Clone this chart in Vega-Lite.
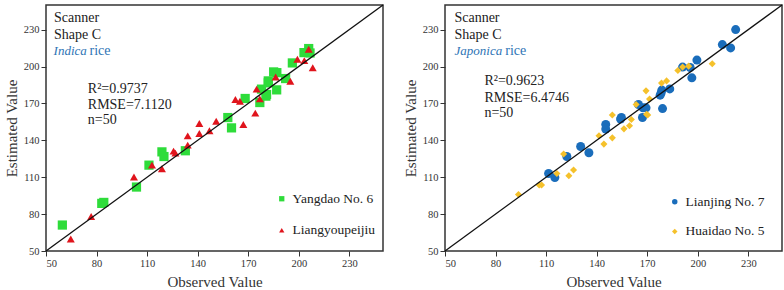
{
  "$schema": "https://vega.github.io/schema/vega-lite/v6.json",
  "padding": {"left": 3, "top": 3, "right": 3, "bottom": 0},
  "background": "white",
  "spacing": 17,
  "config": {
    "font": "Times New Roman, Liberation Serif, serif",
    "view": {"stroke": "#333333", "strokeWidth": 1.5},
    "text": {"font": "Times New Roman, Liberation Serif, serif"},
    "axis": {"grid": false, "domain": false, "tickColor": "#333333", "tickSize": 5, "labelFont": "Times New Roman, Liberation Serif, serif", "labelFontSize": 10.5, "labelColor": "#333333", "titleFont": "Times New Roman, Liberation Serif, serif", "titleFontSize": 15, "titleFontWeight": "normal", "titleColor": "#333333", "labelPadding": 2},
    "legend": {"labelFont": "Times New Roman, Liberation Serif, serif"}
  },
  "datasets": {
    "indica": [
      {"obs": 59.7, "est": 71.1, "variety": "Yangdao No. 6"},
      {"obs": 83.1, "est": 88.7, "variety": "Yangdao No. 6"},
      {"obs": 84.3, "est": 89.5, "variety": "Yangdao No. 6"},
      {"obs": 103.7, "est": 102, "variety": "Yangdao No. 6"},
      {"obs": 111.1, "est": 119.8, "variety": "Yangdao No. 6"},
      {"obs": 118.8, "est": 130.6, "variety": "Yangdao No. 6"},
      {"obs": 120, "est": 126.8, "variety": "Yangdao No. 6"},
      {"obs": 132.7, "est": 131.5, "variety": "Yangdao No. 6"},
      {"obs": 157.9, "est": 158.5, "variety": "Yangdao No. 6"},
      {"obs": 160.1, "est": 150.1, "variety": "Yangdao No. 6"},
      {"obs": 168.2, "est": 174, "variety": "Yangdao No. 6"},
      {"obs": 176.9, "est": 170.7, "variety": "Yangdao No. 6"},
      {"obs": 177.9, "est": 181.6, "variety": "Yangdao No. 6"},
      {"obs": 180.5, "est": 175.9, "variety": "Yangdao No. 6"},
      {"obs": 180.9, "est": 177.2, "variety": "Yangdao No. 6"},
      {"obs": 181.9, "est": 186.7, "variety": "Yangdao No. 6"},
      {"obs": 181.9, "est": 188.3, "variety": "Yangdao No. 6"},
      {"obs": 186.9, "est": 181, "variety": "Yangdao No. 6"},
      {"obs": 185.1, "est": 195.6, "variety": "Yangdao No. 6"},
      {"obs": 187, "est": 195, "variety": "Yangdao No. 6"},
      {"obs": 192.2, "est": 190.2, "variety": "Yangdao No. 6"},
      {"obs": 196.2, "est": 202.9, "variety": "Yangdao No. 6"},
      {"obs": 203.1, "est": 211.3, "variety": "Yangdao No. 6"},
      {"obs": 205.9, "est": 214.6, "variety": "Yangdao No. 6"},
      {"obs": 206.7, "est": 211, "variety": "Yangdao No. 6"},
      {"obs": 64.7, "est": 59.7, "variety": "Liangyoupeijiu"},
      {"obs": 76.8, "est": 78.1, "variety": "Liangyoupeijiu"},
      {"obs": 102.2, "est": 110.1, "variety": "Liangyoupeijiu"},
      {"obs": 112.9, "est": 119.8, "variety": "Liangyoupeijiu"},
      {"obs": 118.8, "est": 116.8, "variety": "Liangyoupeijiu"},
      {"obs": 125.7, "est": 131.2, "variety": "Liangyoupeijiu"},
      {"obs": 126.8, "est": 129.6, "variety": "Liangyoupeijiu"},
      {"obs": 134.1, "est": 136.1, "variety": "Liangyoupeijiu"},
      {"obs": 134.1, "est": 143.6, "variety": "Liangyoupeijiu"},
      {"obs": 141, "est": 153.6, "variety": "Liangyoupeijiu"},
      {"obs": 141, "est": 145.5, "variety": "Liangyoupeijiu"},
      {"obs": 147, "est": 147.7, "variety": "Liangyoupeijiu"},
      {"obs": 151, "est": 155.5, "variety": "Liangyoupeijiu"},
      {"obs": 162.4, "est": 173.1, "variety": "Liangyoupeijiu"},
      {"obs": 165.1, "est": 171.8, "variety": "Liangyoupeijiu"},
      {"obs": 167.1, "est": 152.8, "variety": "Liangyoupeijiu"},
      {"obs": 174.2, "est": 162.1, "variety": "Liangyoupeijiu"},
      {"obs": 175, "est": 181.6, "variety": "Liangyoupeijiu"},
      {"obs": 176.9, "est": 173.7, "variety": "Liangyoupeijiu"},
      {"obs": 186.3, "est": 191.5, "variety": "Liangyoupeijiu"},
      {"obs": 195, "est": 188, "variety": "Liangyoupeijiu"},
      {"obs": 199.2, "est": 205.9, "variety": "Liangyoupeijiu"},
      {"obs": 203.3, "est": 204.8, "variety": "Liangyoupeijiu"},
      {"obs": 205.9, "est": 214, "variety": "Liangyoupeijiu"},
      {"obs": 208.3, "est": 199, "variety": "Liangyoupeijiu"}
    ],
    "japonica": [
      {"obs": 111.5, "est": 113, "variety": "Lianjing No. 7"},
      {"obs": 115.2, "est": 109.8, "variety": "Lianjing No. 7"},
      {"obs": 122.3, "est": 126.8, "variety": "Lianjing No. 7"},
      {"obs": 130.5, "est": 135, "variety": "Lianjing No. 7"},
      {"obs": 135.4, "est": 129.9, "variety": "Lianjing No. 7"},
      {"obs": 145.4, "est": 149.1, "variety": "Lianjing No. 7"},
      {"obs": 145.4, "est": 152.9, "variety": "Lianjing No. 7"},
      {"obs": 154.7, "est": 158.5, "variety": "Lianjing No. 7"},
      {"obs": 154.2, "est": 157.3, "variety": "Lianjing No. 7"},
      {"obs": 164.8, "est": 169.1, "variety": "Lianjing No. 7"},
      {"obs": 167.2, "est": 158.5, "variety": "Lianjing No. 7"},
      {"obs": 167.5, "est": 166.4, "variety": "Lianjing No. 7"},
      {"obs": 169.3, "est": 166.4, "variety": "Lianjing No. 7"},
      {"obs": 177.7, "est": 176.7, "variety": "Lianjing No. 7"},
      {"obs": 178.7, "est": 180.8, "variety": "Lianjing No. 7"},
      {"obs": 178.3, "est": 178.7, "variety": "Lianjing No. 7"},
      {"obs": 179.1, "est": 165.8, "variety": "Lianjing No. 7"},
      {"obs": 183.4, "est": 181.8, "variety": "Lianjing No. 7"},
      {"obs": 191, "est": 199.5, "variety": "Lianjing No. 7"},
      {"obs": 195.5, "est": 199.2, "variety": "Lianjing No. 7"},
      {"obs": 196.5, "est": 190.8, "variety": "Lianjing No. 7"},
      {"obs": 199.5, "est": 205.2, "variety": "Lianjing No. 7"},
      {"obs": 214.6, "est": 217.8, "variety": "Lianjing No. 7"},
      {"obs": 219.5, "est": 215.1, "variety": "Lianjing No. 7"},
      {"obs": 222.5, "est": 230, "variety": "Lianjing No. 7"},
      {"obs": 93.6, "est": 96, "variety": "Huaidao No. 5"},
      {"obs": 105.9, "est": 103.6, "variety": "Huaidao No. 5"},
      {"obs": 107.3, "est": 103.6, "variety": "Huaidao No. 5"},
      {"obs": 116.4, "est": 113, "variety": "Huaidao No. 5"},
      {"obs": 120.4, "est": 128.8, "variety": "Huaidao No. 5"},
      {"obs": 123.5, "est": 111.2, "variety": "Huaidao No. 5"},
      {"obs": 126.3, "est": 115.8, "variety": "Huaidao No. 5"},
      {"obs": 141.4, "est": 143.7, "variety": "Huaidao No. 5"},
      {"obs": 144.3, "est": 136.9, "variety": "Huaidao No. 5"},
      {"obs": 149.3, "est": 142, "variety": "Huaidao No. 5"},
      {"obs": 149.3, "est": 160.5, "variety": "Huaidao No. 5"},
      {"obs": 156.2, "est": 149.3, "variety": "Huaidao No. 5"},
      {"obs": 159.5, "est": 151.8, "variety": "Huaidao No. 5"},
      {"obs": 160.6, "est": 156.9, "variety": "Huaidao No. 5"},
      {"obs": 163.4, "est": 169.1, "variety": "Huaidao No. 5"},
      {"obs": 169.3, "est": 180.2, "variety": "Huaidao No. 5"},
      {"obs": 170.3, "est": 160.5, "variety": "Huaidao No. 5"},
      {"obs": 169.6, "est": 161.2, "variety": "Huaidao No. 5"},
      {"obs": 171.4, "est": 173.5, "variety": "Huaidao No. 5"},
      {"obs": 178.5, "est": 186.5, "variety": "Huaidao No. 5"},
      {"obs": 181.5, "est": 188.3, "variety": "Huaidao No. 5"},
      {"obs": 188.2, "est": 196.7, "variety": "Huaidao No. 5"},
      {"obs": 191, "est": 199.5, "variety": "Huaidao No. 5"},
      {"obs": 194.6, "est": 200.3, "variety": "Huaidao No. 5"},
      {"obs": 208.6, "est": 202.2, "variety": "Huaidao No. 5"}
    ]
  },
  "resolve": {"scale": {"color": "independent", "shape": "independent"}},
  "hconcat": [
    {
      "width": 337,
      "height": 246,
      "layer": [
        {
          "data": {"name": "indica"},
          "transform": [{"filter": "datum.variety === 'Yangdao No. 6'"}],
          "mark": {"type": "point", "filled": true, "opacity": 1, "strokeWidth": 0, "size": 85},
          "encoding": {
            "x": {"field": "obs", "type": "quantitative", "title": "Observed Value", "scale": {"domain": [50, 250], "nice": false}, "axis": {"values": [50, 80, 110, 140, 170, 200, 230], "titlePadding": 6}},
            "y": {"field": "est", "type": "quantitative", "title": "Estimated Value", "scale": {"domain": [50, 250], "nice": false}, "axis": {"values": [50, 80, 110, 140, 170, 200, 230], "titlePadding": 4}},
            "color": {"field": "variety", "type": "nominal", "sort": null, "scale": {"domain": ["Yangdao No. 6", "Liangyoupeijiu"], "range": ["#2edc3a", "#e0141c"]}, "legend": {"orient": "none", "legendX": 229, "legendY": 187, "title": null, "labelFontSize": 13.5, "labelColor": "#222222", "rowPadding": 16.5, "labelOffset": 4, "padding": 0, "symbolSize": 28, "symbolStrokeWidth": 0}},
            "shape": {"field": "variety", "type": "nominal", "sort": null, "scale": {"domain": ["Yangdao No. 6", "Liangyoupeijiu"], "range": ["square", "triangle-up"]}}
          }
        },
        {
          "data": {"name": "indica"},
          "transform": [{"filter": "datum.variety === 'Liangyoupeijiu'"}],
          "mark": {"type": "point", "filled": true, "opacity": 1, "strokeWidth": 0, "size": 64},
          "encoding": {
            "x": {"field": "obs", "type": "quantitative"},
            "y": {"field": "est", "type": "quantitative"},
            "color": {"field": "variety", "type": "nominal", "sort": null},
            "shape": {"field": "variety", "type": "nominal", "sort": null}
          }
        },
        {
          "data": {"values": [{}]},
          "mark": {"type": "rule", "color": "#111111", "strokeWidth": 1.3},
          "encoding": {"x": {"datum": 50, "type": "quantitative"}, "y": {"datum": 50, "type": "quantitative"}, "x2": {"datum": 250}, "y2": {"datum": 250}}
        },
        {
          "data": {"values": [{}]},
          "mark": {"type": "text", "text": "Scanner", "align": "left", "baseline": "alphabetic", "fontSize": 14, "color": "#222222"},
          "encoding": {"x": {"datum": 54.8, "type": "quantitative"}, "y": {"datum": 236.3, "type": "quantitative"}}
        },
        {
          "data": {"values": [{}]},
          "mark": {"type": "text", "text": "Shape C", "align": "left", "baseline": "alphabetic", "fontSize": 14, "color": "#222222"},
          "encoding": {"x": {"datum": 54.8, "type": "quantitative"}, "y": {"datum": 222.5, "type": "quantitative"}}
        },
        {
          "data": {"values": [{}]},
          "mark": {"type": "text", "text": "Indica", "align": "left", "baseline": "alphabetic", "fontSize": 13, "fontStyle": "italic", "color": "#2e74b5"},
          "encoding": {"x": {"datum": 54.5, "type": "quantitative"}, "y": {"datum": 209.5, "type": "quantitative"}}
        },
        {
          "data": {"values": [{}]},
          "mark": {"type": "text", "text": "rice", "align": "left", "baseline": "alphabetic", "fontSize": 14, "color": "#2e74b5"},
          "encoding": {"x": {"datum": 75.8, "type": "quantitative"}, "y": {"datum": 209.5, "type": "quantitative"}}
        },
        {
          "data": {"values": [{}]},
          "mark": {"type": "text", "text": "R²=0.9737", "align": "left", "baseline": "alphabetic", "fontSize": 14, "color": "#222222"},
          "encoding": {"x": {"datum": 74.8, "type": "quantitative"}, "y": {"datum": 178.6, "type": "quantitative"}}
        },
        {
          "data": {"values": [{}]},
          "mark": {"type": "text", "text": "RMSE=7.1120", "align": "left", "baseline": "alphabetic", "fontSize": 14, "color": "#222222"},
          "encoding": {"x": {"datum": 74.8, "type": "quantitative"}, "y": {"datum": 165.6, "type": "quantitative"}}
        },
        {
          "data": {"values": [{}]},
          "mark": {"type": "text", "text": "n=50", "align": "left", "baseline": "alphabetic", "fontSize": 14, "color": "#222222"},
          "encoding": {"x": {"datum": 74.8, "type": "quantitative"}, "y": {"datum": 153.4, "type": "quantitative"}}
        }
      ]
    },
    {
      "width": 337,
      "height": 246,
      "layer": [
        {
          "data": {"name": "japonica"},
          "transform": [{"filter": "datum.variety === 'Lianjing No. 7'"}],
          "mark": {"type": "point", "filled": true, "opacity": 1, "strokeWidth": 0, "size": 81},
          "encoding": {
            "x": {"field": "obs", "type": "quantitative", "title": "Observed Value", "scale": {"domain": [50, 250], "nice": false}, "axis": {"values": [50, 80, 110, 140, 170, 200, 230], "titlePadding": 6}},
            "y": {"field": "est", "type": "quantitative", "title": "Estimated Value", "scale": {"domain": [50, 250], "nice": false}, "axis": {"values": [50, 80, 110, 140, 170, 200, 230], "titlePadding": 4}},
            "color": {"field": "variety", "type": "nominal", "sort": null, "scale": {"domain": ["Lianjing No. 7", "Huaidao No. 5"], "range": ["#1a6dbb", "#f5c12b"]}, "legend": {"orient": "none", "legendX": 223, "legendY": 190, "title": null, "labelFontSize": 13.5, "labelColor": "#222222", "rowPadding": 14.7, "labelOffset": 4, "padding": 0, "symbolSize": 30, "symbolStrokeWidth": 0}},
            "shape": {"field": "variety", "type": "nominal", "sort": null, "scale": {"domain": ["Lianjing No. 7", "Huaidao No. 5"], "range": ["circle", "diamond"]}}
          }
        },
        {
          "data": {"name": "japonica"},
          "transform": [{"filter": "datum.variety === 'Huaidao No. 5'"}],
          "mark": {"type": "point", "filled": true, "opacity": 1, "strokeWidth": 0, "size": 50},
          "encoding": {
            "x": {"field": "obs", "type": "quantitative"},
            "y": {"field": "est", "type": "quantitative"},
            "color": {"field": "variety", "type": "nominal", "sort": null},
            "shape": {"field": "variety", "type": "nominal", "sort": null}
          }
        },
        {
          "data": {"values": [{}]},
          "mark": {"type": "rule", "color": "#111111", "strokeWidth": 1.3},
          "encoding": {"x": {"datum": 50, "type": "quantitative"}, "y": {"datum": 50, "type": "quantitative"}, "x2": {"datum": 250}, "y2": {"datum": 250}}
        },
        {
          "data": {"values": [{}]},
          "mark": {"type": "text", "text": "Scanner", "align": "left", "baseline": "alphabetic", "fontSize": 14, "color": "#222222"},
          "encoding": {"x": {"datum": 55.6, "type": "quantitative"}, "y": {"datum": 236.3, "type": "quantitative"}}
        },
        {
          "data": {"values": [{}]},
          "mark": {"type": "text", "text": "Shape C", "align": "left", "baseline": "alphabetic", "fontSize": 14, "color": "#222222"},
          "encoding": {"x": {"datum": 55.6, "type": "quantitative"}, "y": {"datum": 222.5, "type": "quantitative"}}
        },
        {
          "data": {"values": [{}]},
          "mark": {"type": "text", "text": "Japonica", "align": "left", "baseline": "alphabetic", "fontSize": 13, "fontStyle": "italic", "color": "#2e74b5"},
          "encoding": {"x": {"datum": 55.7, "type": "quantitative"}, "y": {"datum": 209.5, "type": "quantitative"}}
        },
        {
          "data": {"values": [{}]},
          "mark": {"type": "text", "text": "rice", "align": "left", "baseline": "alphabetic", "fontSize": 14, "color": "#2e74b5"},
          "encoding": {"x": {"datum": 85.8, "type": "quantitative"}, "y": {"datum": 209.5, "type": "quantitative"}}
        },
        {
          "data": {"values": [{}]},
          "mark": {"type": "text", "text": "R²=0.9623", "align": "left", "baseline": "alphabetic", "fontSize": 14, "color": "#222222"},
          "encoding": {"x": {"datum": 73.4, "type": "quantitative"}, "y": {"datum": 185, "type": "quantitative"}}
        },
        {
          "data": {"values": [{}]},
          "mark": {"type": "text", "text": "RMSE=6.4746", "align": "left", "baseline": "alphabetic", "fontSize": 14, "color": "#222222"},
          "encoding": {"x": {"datum": 73.4, "type": "quantitative"}, "y": {"datum": 171.3, "type": "quantitative"}}
        },
        {
          "data": {"values": [{}]},
          "mark": {"type": "text", "text": "n=50", "align": "left", "baseline": "alphabetic", "fontSize": 14, "color": "#222222"},
          "encoding": {"x": {"datum": 73.4, "type": "quantitative"}, "y": {"datum": 159.1, "type": "quantitative"}}
        }
      ]
    }
  ]
}
